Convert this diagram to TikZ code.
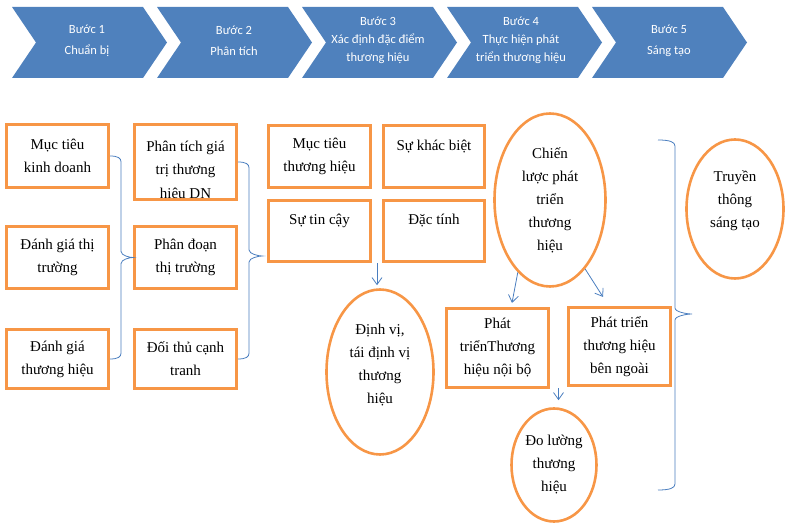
\documentclass[tikz,border=0pt]{standalone}
\usepackage{fontspec}
\setmainfont{Liberation Serif}
\newfontfamily\chevfont{Carlito}
\usetikzlibrary{shapes.geometric,arrows.meta,calc}
\definecolor{borange}{HTML}{F79646}
\definecolor{cblue}{HTML}{4F81BD}
\definecolor{lblue}{HTML}{4A7EBF}
\tikzset{
 box/.style={draw=borange, line width=2.6pt, fill=white, align=center, inner sep=0pt, minimum width=102.5pt, font=\fontsize{15}{23}\selectfont},
 oval/.style={ellipse, draw=borange, line width=2.6pt, align=center, inner sep=0pt, font=\fontsize{15}{23}\selectfont},
 chev/.style={fill=cblue},
 chevtxt/.style={text=white, align=center, font=\chevfont\fontsize{12.5}{18}\selectfont},
 br/.style={draw=lblue, line width=0.8pt},
 arr/.style={draw=lblue, line width=0.8pt, -{Straight Barb[length=7pt,width=10pt]}},
}
\newcommand\bracepath[4]{%
 \draw[br] let \p1=(#1), \p2=(#2), \p3=(#3) in
 (\p1) .. controls (\x1+0.7*#4,\y1) and (\x1+#4,\y1-2pt) .. (\x1+#4,\y1-6pt)
 -- (\x1+#4,\y3+6pt) .. controls (\x1+#4,\y3+2pt) and (\x3-0.3*#4,\y3) .. (\x3,\y3)
 .. controls (\x3-0.3*#4,\y3) and (\x1+#4,\y3-2pt) .. (\x1+#4,\y3-6pt)
 -- (\x2+#4,\y2+6pt) .. controls (\x2+#4,\y2+2pt) and (\x2+0.7*#4,\y2) .. (\x2,\y2);}
\begin{document}
\begin{tikzpicture}[x=1pt,y=-1pt]
\useasboundingbox (0,0) rectangle (788,526);
% chevrons
\foreach \L in {12,157,302,447,592}
  \fill[chev] (\L,7) -- (\L+131,7) -- (\L+155,42.5) -- (\L+131,78) -- (\L,78) -- (\L+24,42.5) -- cycle;
\node[chevtxt] (s1) at (87,41) {Bước 1\\[3pt]Chuẩn bị};
\node[chevtxt] (s2) at (234,41) {Bước 2\\[3pt]Phân tích};
\node[chevtxt] (s3) at (378,40.5) {Bước 3\\Xác định đặc điểm\\thương hiệu};
\node[chevtxt] (s4) at (521,40.5) {Bước 4\\Thực hiện phát\\triển thương hiệu};
\node[chevtxt] (s5) at (669,41) {Bước 5\\[3pt]Sáng tạo};
% column 1
\node[box, minimum height=63.5pt] (A1) at (57.5,156) {Mục tiêu\\kinh doanh};
\node[box, minimum height=62.5pt] (A2) at (57.5,257.5) {Đánh giá thị\\trường};
\node[box, minimum height=59.5pt] (A3) at (57.5,359) {Đánh giá\\thương hiệu};
% column 2
\node[box, minimum height=75.5pt, path picture={\node[draw=none, fill=none, text=black, shape=rectangle, line width=0.4pt, inner sep=0pt, minimum width=0pt, minimum height=0pt, align=center, font=\fontsize{15}{23.5}\selectfont] (B1t) at ([yshift=-9pt]path picture bounding box.center) {Phân tích giá\\trị thương\\hiệu DN};}] (B1) at (185.5,162) {};
\node[box, minimum height=62.5pt] (B2) at (185.5,257.5) {Phân đoạn\\thị trường};
\node[box, minimum height=59.5pt] (B3) at (185.5,359) {Đối thủ cạnh\\tranh};
% column 3
\node[box, minimum height=62.5pt] (C1) at (319.5,156.5) {Mục tiêu\\thương hiệu};
\node[box, minimum width=101.5pt, minimum height=62.5pt] (C2) at (434,156.5) {Sự khác biệt\\~};
\node[box, minimum height=61.5pt] (C3) at (319.5,231) {Sự tin cậy\\~};
\node[box, minimum width=101.5pt, minimum height=61.5pt] (C4) at (434,231) {Đặc tính\\~};
\node[oval, minimum width=107pt, minimum height=165pt] (D) at (380,372) {Định vị,\\tái định vị\\thương\\hiệu\\[-6pt]~};
% step 4
\node[oval, minimum width=111pt, minimum height=173pt] (E) at (550,200) {Chiến\\lược phát\\triển\\thương\\hiệu};
\node[box, minimum height=79.5pt] (F1) at (497.5,348) {Phát\\triểnThương\\hiệu nội bộ};
\node[box, minimum height=78.5pt] (F2) at (619.5,346.5) {Phát triển\\thương hiệu\\bên ngoài};
\node[oval, minimum width=85pt, minimum height=113pt] (G) at (554,465) {Đo lường\\thương\\hiệu};
% step 5
\node[oval, minimum width=97pt, minimum height=139pt] (H) at (735,209) {Truyền\\thông\\sáng tạo\\[-3pt]~};
% braces
\coordinate (t2) at (262,256);
\coordinate (b3top) at (658,140);
\coordinate (b3bot) at (658,490);
\coordinate (b3tip) at (692,314);
\bracepath{A1.east}{A3.east}{B2.west}{11pt}
\bracepath{B1.east}{B3.east}{t2}{11pt}
\bracepath{b3top}{b3bot}{b3tip}{17pt}
% arrows
\coordinate (a1s) at ($(C3.south east)!0.5!(C4.south west)$);
\coordinate (a1e) at (a1s |- D.north);
\draw[arr] (a1s) -- ([yshift=3pt]a1e);
\draw[arr] (E.246) -- ([xshift=14.5pt,yshift=4pt]F1.north);
\draw[arr] (E.297) -- ([xshift=-16.5pt,yshift=9pt]F2.north);
\coordinate (a3s) at ($(F1.south east)!0.5!(F2.south west)$);
\coordinate (a3e) at (a3s |- G.north);
\draw[arr] (a3s) -- ([yshift=7pt]a3e);
\end{tikzpicture}
\end{document}
